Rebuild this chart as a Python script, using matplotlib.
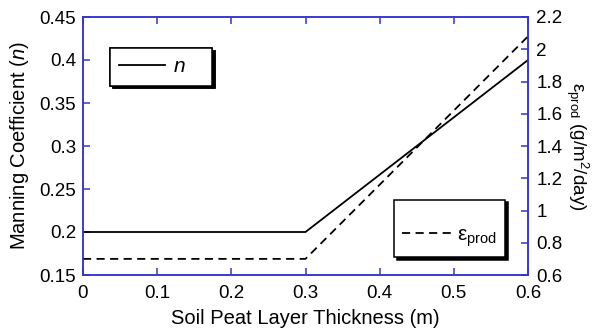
import matplotlib
matplotlib.use('Agg')
import matplotlib.pyplot as plt

plt.rcParams['font.family'] = ['Liberation Sans', 'DejaVu Sans']
plt.rcParams['mathtext.fontset'] = 'custom'
plt.rcParams['mathtext.rm'] = 'Liberation Sans'
plt.rcParams['mathtext.it'] = 'Liberation Sans:italic'

# Data
thickness = [0.0, 0.3, 0.6]
manning_n = [0.2, 0.2, 0.4]
eps_prod = [0.7, 0.7, 2.08]

blue = '#3535d0'

fig = plt.figure(figsize=(5.99, 3.36), dpi=100)
ax = fig.add_axes([83 / 599, 1 - 275 / 336, 445 / 599, 258 / 336])
ax2 = ax.twinx()

l1, = ax.plot(thickness, manning_n, color='black', lw=1.3, label='n')
l2, = ax2.plot(thickness, eps_prod, color='black', lw=1.3, ls=(0, (4.5, 3)),
               label='ε$_{\\rm prod}$')

ax.set_xlim(0, 0.6)
ax.set_ylim(0.15, 0.45)
ax2.set_ylim(0.6, 2.2)
ax.set_xticks([0, 0.1, 0.2, 0.3, 0.4, 0.5, 0.6])
ax.set_xticklabels(['0', '0.1', '0.2', '0.3', '0.4', '0.5', '0.6'])
ax.set_yticks([0.15, 0.2, 0.25, 0.3, 0.35, 0.4, 0.45])
ax.set_yticklabels(['0.15', '0.2', '0.25', '0.3', '0.35', '0.4', '0.45'])
ax2.set_yticks([0.6, 0.8, 1.0, 1.2, 1.4, 1.6, 1.8, 2.0, 2.2])
ax2.set_yticklabels(['0.6', '0.8', '1', '1.2', '1.4', '1.6', '1.8', '2', '2.2'])

for a in (ax, ax2):
    for s in a.spines.values():
        s.set_color(blue)
        s.set_linewidth(1.1)
ax.tick_params(axis='x', direction='in', top=True, color=blue, length=5,
               width=1.1, labelsize=13.5, pad=7)
ax.tick_params(axis='y', direction='in', color=blue, length=5, width=1.1,
               labelsize=13.5, pad=5)
ax2.tick_params(axis='y', direction='in', color=blue, length=5, width=1.1,
                labelsize=13.5, pad=6)

ax.set_xlabel('Soil Peat Layer Thickness (m)', fontsize=14.5, labelpad=5)
ax.set_ylabel('Manning Coefficient ($\\it{n}$)', fontsize=14.5, labelpad=6)
ax2.set_ylabel('ε$_{\\rm prod}$ (g/m$^2$/day)', fontsize=13.5,
               rotation=270, labelpad=20)

leg1 = ax.legend(handles=[l1], loc='upper left', bbox_to_anchor=(0.0607, 0.88),
                 borderaxespad=0, fancybox=False,
                 shadow={'color': 'black', 'alpha': 1},
                 edgecolor='black', fontsize=15, handlelength=2.2,
                 handletextpad=0.4, borderpad=0.45, framealpha=1)
leg1.get_frame().set_linewidth(1.1)
leg1.get_texts()[0].set_style('italic')
leg1.get_texts()[0].set_text('n   ')
ax.add_artist(leg1)
leg2 = ax2.legend(handles=[l2], loc='lower right', bbox_to_anchor=(0.948, 0.07),
                  borderaxespad=0, fancybox=False,
                  shadow={'color': 'black', 'alpha': 1},
                  edgecolor='black', fontsize=15, handlelength=2.4,
                  handletextpad=0.2, borderpad=0.4, framealpha=1,
                  title=' ', title_fontsize=5)
leg2.get_frame().set_linewidth(1.1)

plt.savefig('out.png', dpi=100)
